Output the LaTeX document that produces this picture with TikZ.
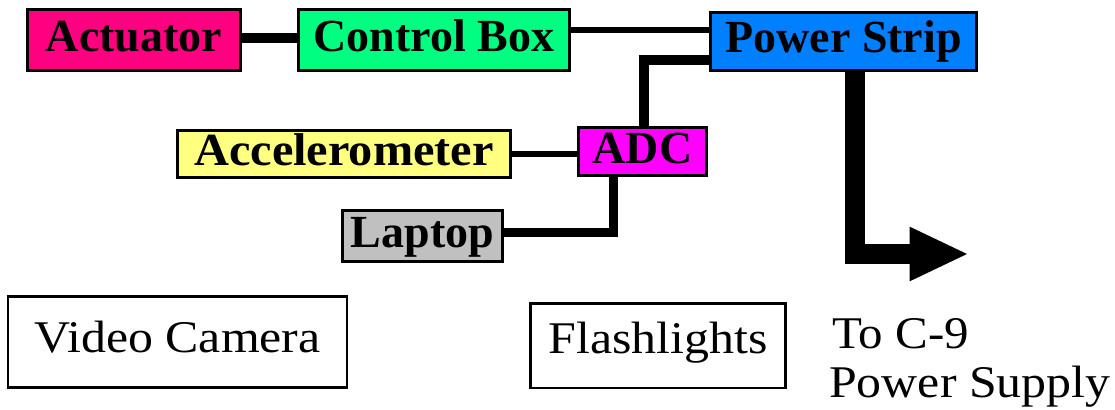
\documentclass[tikz,border=0pt]{standalone}
\usepackage{fontspec}
\usepackage{graphicx}
\setmainfont{Liberation Serif}
\usetikzlibrary{arrows.meta}
\definecolor{actc}{HTML}{FF0080}
\definecolor{ctrlc}{HTML}{00FF80}
\definecolor{powc}{HTML}{0080FF}
\definecolor{accc}{HTML}{FFFF80}
\definecolor{adcc}{HTML}{FF00FF}
\definecolor{lapc}{HTML}{C0C0C0}
\begin{document}
\begin{tikzpicture}[x=0.75pt,y=-0.75pt,
  cbox/.style={draw=black,line width=2.25pt,inner sep=0pt,
    font=\bfseries\fontsize{34.5}{40}\selectfont,
    text height=23.25pt,text depth=6pt},
  obox/.style={draw=black,line width=1.9pt,inner sep=0pt,
    font=\fontsize{34}{40}\selectfont},
  plain/.style={inner sep=0pt,font=\fontsize{34}{40}\selectfont},
  wire/.style={draw=black,line width=#1,line join=miter},
  wire/.default=4.5pt]
\useasboundingbox (0,0) rectangle (1115,410);
% nodes
\node[cbox,fill=actc,minimum width=159.75pt,minimum height=45.75pt] (act) at (134,40) {Actuator};
\node[cbox,fill=ctrlc,minimum width=203.25pt,minimum height=45.75pt] (ctrl) at (434,40) {Control Box};
\node[cbox,fill=powc,minimum width=199.5pt,minimum height=43.5pt] (pow) at (843.5,41.5) {Power Strip};
\node[cbox,fill=accc,minimum width=249.75pt,minimum height=35.25pt] (acc) at (344,154) {\scalebox{1.05}[1]{Accelerometer}};
\node[cbox,fill=adcc,minimum width=96pt,minimum height=36pt] (adc) at (642.5,151.5) {ADC};
\node[cbox,fill=lapc,minimum width=120pt,minimum height=38.25pt] (lap) at (422.5,236) {Laptop};
\node[obox,minimum width=254pt,minimum height=68.6pt,text height=23.25pt,text depth=8.25pt] (cam) at (177.5,342) {\scalebox{1.1}[1]{Video Camera}};
\node[obox,minimum width=191.6pt,minimum height=63.4pt,text height=22.5pt,text depth=11.25pt] (flash) at (658,345.5) {\scalebox{1.1}[1]{Flashlights}};
\node[plain,anchor=base west] (toc) at (832,348) {\scalebox{1.08}[1]{To C-9}};
\node[plain,anchor=base west] (psup) at (829,397) {\scalebox{1.1}[1]{Power Supply}};
\coordinate (c9) at (967,254);
% connectors
\draw[wire=7.5pt] ([yshift=1.5pt]act.east) -- ([yshift=1.5pt]act.east -| ctrl.west);
\draw[wire=4.5pt] ([yshift=7.5pt]ctrl.east) -- ([yshift=7.5pt]ctrl.east -| pow.west);
\draw[wire=7.5pt] ([yshift=-14.25pt]pow.west) -| ([xshift=1.1pt]adc.north);
\draw[wire=4.5pt] (acc.east) -- (acc.east -| adc.west);
\draw[wire=6.75pt] ([yshift=2.6pt]lap.east) -| ([xshift=-21.75pt]adc.south);
\draw[wire=15pt,-{Triangle[length=43pt,width=41pt,line width=0pt]}] ([xshift=8.25pt]pow.south) |- (c9);
\end{tikzpicture}
\end{document}
